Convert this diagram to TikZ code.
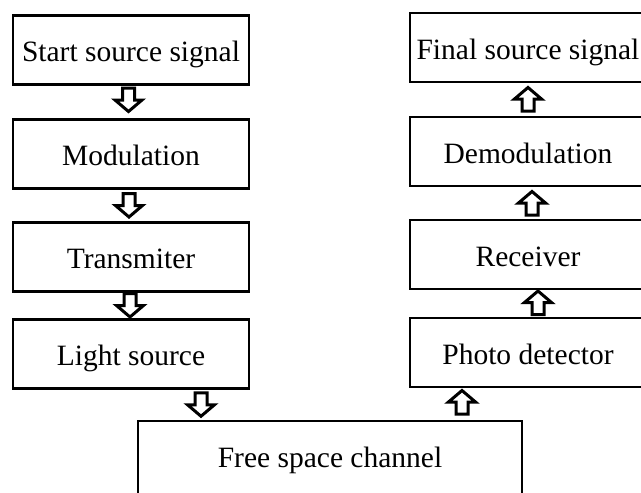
\documentclass[tikz,border=0pt]{standalone}
\usepackage{fontspec}
\setmainfont{Liberation Serif}
\usetikzlibrary{calc}
\tikzset{
  blockbox/.style={draw, line width=2.8pt, rectangle, minimum width=236pt, minimum height=69pt,
    inner sep=0pt, text height=23pt, text depth=0pt,
    font=\fontsize{29.5}{35}\selectfont},
  arrowline/.style={draw, fill=white, line width=3pt, line join=miter},
  dnarrow/.pic={\path[arrowline] (-6,-12)--(6,-12)--(6,0)--(13.5,0)--(0,11.5)--(-13.5,0)--(-6,0)--cycle;},
  uparrow/.pic={\path[arrowline] (-6,12)--(6,12)--(6,0)--(13.5,0)--(0,-11.5)--(-13.5,0)--(-6,0)--cycle;}
}
\begin{document}
\begin{tikzpicture}[x=1pt,y=-1pt]
\useasboundingbox (0,0) rectangle (641,493);
\clip (0,0) rectangle (641,493);
\fill[white] (0,0) rectangle (641,493);
% left column
\node[blockbox] (start) at (131,50) {Start source signal};
\node[blockbox] (mod) at (131,154) {Modulation};
\node[blockbox] (trans) at (131,257) {Transmiter};
\node[blockbox] (light) at (131,354) {Light source};
% right column
\node[blockbox] (final) at (528,47.5) {Final source signal};
\node[blockbox] (demod) at (528,151.5) {Demodulation};
\node[blockbox] (recv) at (528,254.5) {Receiver};
\node[blockbox] (photo) at (528,352.5) {Photo detector};
% channel
\node[blockbox, minimum width=384pt, minimum height=88pt, text height=20pt, text depth=16pt] (free) at (330,465) {Free space channel};
% arrows
\pic at ($(start.south)!.5!(mod.north)+(-2.5,-2)$) {dnarrow};
\pic at ($(mod.south)!.5!(trans.north)+(-2,0)$) {dnarrow};
\pic at ($(trans.south)!.5!(light.north)+(-1,0)$) {dnarrow};
\pic at ($(light.south)!.5!(light.south|-free.north)+(70,0)$) {dnarrow};
\pic at ($(photo.south)!.5!(photo.south|-free.north)+(-66,-2)$) {uparrow};
\pic at ($(recv.south)!.5!(photo.north)+(10,-1)$) {uparrow};
\pic at ($(demod.south)!.5!(recv.north)+(4,0)$) {uparrow};
\pic at ($(final.south)!.5!(demod.north)+(0,-0.5)$) {uparrow};
\end{tikzpicture}
\end{document}
